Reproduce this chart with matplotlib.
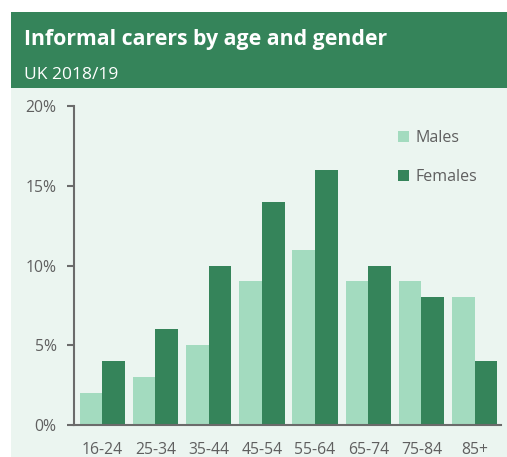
import matplotlib.pyplot as plt
from matplotlib.patches import Rectangle
import numpy as np

# carers as a share of each age band, UK 2018/19
ages = ['16-24', '25-34', '35-44', '45-54', '55-64', '65-74', '75-84', '85+']
males = [2, 3, 5, 9, 11, 9, 9, 8]
females = [4, 6, 10, 14, 16, 10, 8, 4]
yticks = [0, 5, 10, 15, 20]

dark = '#35845a'
light = '#a3dbbf'
panel = '#ebf5f0'
grey = '#6b6b6b'
text = '#5f5f5f'

plt.rcParams['font.family'] = ['Open Sans', 'DejaVu Sans']

W, H = 507, 457
fig = plt.figure(figsize=(W / 100, H / 100), dpi=100)
fig.patch.set_facecolor('white')

# header band and panel background, in pixel units
def px(x, y, w, h):
    return (x / W, 1 - (y + h) / H, w / W, h / H)

x0, y0, w0, h0 = px(11, 12, 496, 76)
fig.patches.append(Rectangle((x0, y0), w0, h0, transform=fig.transFigure,
                             facecolor=dark, edgecolor='none', zorder=-2))
x0, y0, w0, h0 = px(11, 88, 496, 369)
fig.patches.append(Rectangle((x0, y0), w0, h0, transform=fig.transFigure,
                             facecolor=panel, edgecolor='none', zorder=-2))

fig.text(24 / W, 1 - 40 / H, 'Informal carers by age and gender', color='white',
         fontsize=15.3, fontweight='bold', va='center', ha='left')
fig.text(24 / W, 1 - 75 / H, 'UK 2018/19', color='white',
         fontsize=12.5, va='center', ha='left')

ax = fig.add_axes(px(74, 106, 427, 319))
ax.set_zorder(2)
ax.set_facecolor('none')

x = np.arange(len(ages))
bw = 0.427
ax.bar(x - bw / 2, males, width=bw, color=light, label='Males', zorder=2)
ax.bar(x + bw / 2, females, width=bw, color=dark, label='Females', zorder=2)

ax.set_xlim(-0.531, 7.495)
ax.set_ylim(0, 20)
ax.set_yticks(yticks)
ax.set_yticklabels(['%d%%' % t for t in yticks])
ax.set_xticks(x)
ax.set_xticklabels(ages)

for s in ['top', 'right']:
    ax.spines[s].set_visible(False)
for s in ['left', 'bottom']:
    ax.spines[s].set_color(grey)
    ax.spines[s].set_linewidth(1.5)
    ax.spines[s].set_zorder(3)

ax.tick_params(axis='y', length=5, width=1.5, color=grey, labelcolor=text,
               labelsize=11.3, pad=7.5)
ax.tick_params(axis='x', length=0, labelcolor=text, labelsize=11.3, pad=12)

leg = ax.legend(loc='upper left', bbox_to_anchor=(0.725, 0.97), frameon=False,
                fontsize=11.5, handlelength=0.7, handleheight=0.7,
                handletextpad=0.4, labelspacing=1.45, labelcolor=text)

fig.savefig('out.png', dpi=100, facecolor=fig.get_facecolor())
